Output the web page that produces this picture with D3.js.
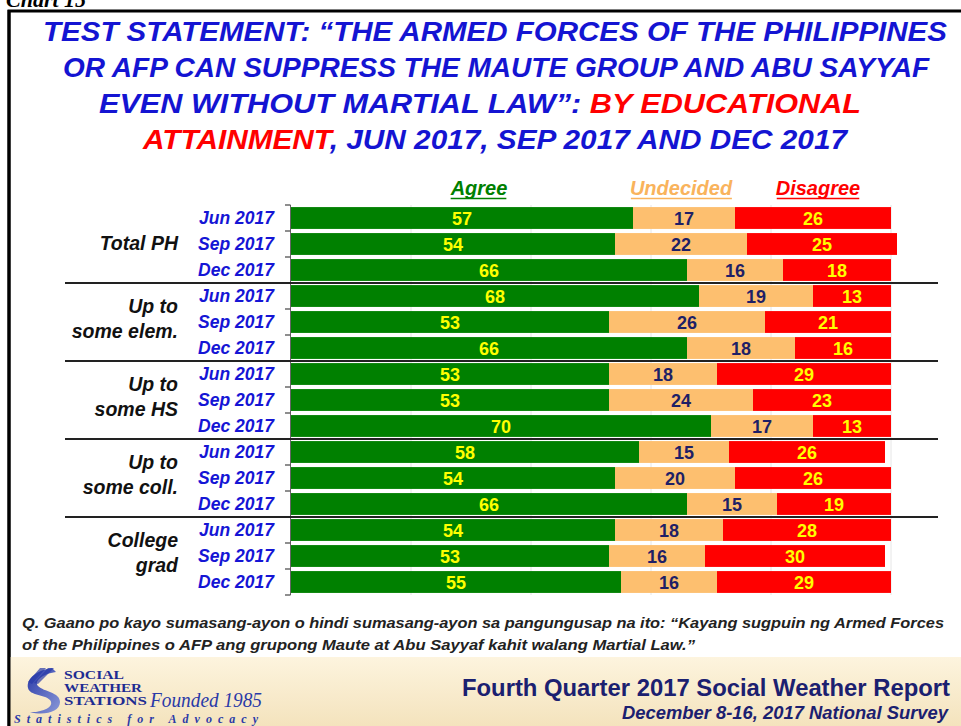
<!DOCTYPE html>
<html>
<head>
<meta charset="utf-8">
<script src="https://cdn.jsdelivr.net/npm/d3@7"></script>
<style>
  body { margin: 0; background: #fff; }
  svg { display: block; font-family: "Liberation Sans", Arial, sans-serif; }
</style>
</head>
<body>
<svg id="chart" width="961" height="726"></svg>
<script>
// data
const groupLines = [['Total PH'], ['Up to', 'some elem.'], ['Up to', 'some HS'], ['Up to', 'some coll.'], ['College', 'grad']];
const periods = ['Jun 2017', 'Sep 2017', 'Dec 2017'];
const agree     = [57, 54, 66, 68, 53, 66, 53, 53, 70, 58, 54, 66, 54, 53, 55];
const undecided = [17, 22, 16, 19, 26, 18, 18, 24, 17, 15, 20, 15, 18, 16, 16];
const disagree  = [26, 25, 18, 13, 21, 16, 29, 23, 13, 26, 26, 19, 28, 30, 29];
const seriesNames = ['Agree', 'Undecided', 'Disagree'];
const gridTicks = [20, 40, 60, 80, 100];

const colors = { Agree: '#008000', Undecided: '#fdbf6f', Disagree: '#ff0000' };
const headColors = { Agree: '#008000', Undecided: '#f9b35c', Disagree: '#ff0000' };
const labelColors = { Agree: '#ffff00', Undecided: '#1f1f66', Disagree: '#ffff00' };

const svg = d3.select('#chart');

// rows
const rows = [];
groupLines.forEach((g, gi) => {
  periods.forEach((p, pi) => {
    const i = gi * 3 + pi;
    rows.push({ id: i, group: gi, period: p, Agree: agree[i], Undecided: undecided[i], Disagree: disagree[i] });
  });
});

const x = d3.scaleLinear().domain([0, 100]).range([291, 891]);
const y = d3.scaleBand().domain(rows.map(d => d.id)).range([205, 595]).paddingInner(0.16).paddingOuter(0.08);

// frame
svg.append('rect').attr('x', 9).attr('y', 11).attr('width', 960).attr('height', 730)
  .attr('fill', 'none').attr('stroke', '#000').attr('stroke-width', 3);

// "Chart 15" cut off at top, as in the source slide
svg.append('text').attr('x', 6).attr('y', 7)
  .attr('font-family', '"Liberation Serif", "Times New Roman", serif')
  .attr('font-weight', 'bold').attr('font-style', 'italic').attr('font-size', 22)
  .text('Chart 15');

// title
const title = svg.append('g').attr('font-weight', 'bold').attr('font-style', 'italic')
  .attr('font-size', 27).attr('text-anchor', 'middle').attr('fill', '#1414d2');
const titleLines = [
  [['TEST STATEMENT: \u201CTHE ARMED FORCES OF THE PHILIPPINES', '#1414d2']],
  [['OR AFP CAN SUPPRESS THE MAUTE GROUP AND ABU SAYYAF', '#1414d2']],
  [['EVEN WITHOUT MARTIAL LAW\u201D: ', '#1414d2'], ['BY EDUCATIONAL', '#ff0000']],
  [['ATTAINMENT', '#ff0000'], [', JUN 2017, SEP 2017 AND DEC 2017', '#1414d2']]
];
const titleY = [41, 77, 113, 149];
const titleX = [495, 496, 480, 495];
const titleW = [904, 866, 762, 704];
titleLines.forEach((parts, i) => {
  const t = title.append('text').attr('x', titleX[i]).attr('y', titleY[i])
    .attr('textLength', titleW[i]).attr('lengthAdjust', 'spacingAndGlyphs');
  parts.forEach(p => t.append('tspan').attr('fill', p[1]).text(p[0]));
});

// legend headings
const headX = { Agree: 479, Undecided: 681, Disagree: 818 };
seriesNames.forEach(s => {
  const t = svg.append('text').attr('x', headX[s]).attr('y', 195)
    .attr('text-anchor', 'middle').attr('font-weight', 'bold').attr('font-style', 'italic')
    .attr('font-size', 20).attr('fill', headColors[s]).text(s);
  const bb = t.node().getBBox();
  svg.append('line').attr('x1', bb.x + 1).attr('x2', bb.x + bb.width - 1)
    .attr('y1', 198.5).attr('y2', 198.5).attr('stroke', headColors[s]).attr('stroke-width', 1.6);
});

// gridlines
svg.append('g').selectAll('line').data(gridTicks).join('line')
  .attr('x1', d => x(d)).attr('x2', d => x(d)).attr('y1', 205).attr('y2', 595)
  .attr('stroke', '#e6e6e6').attr('stroke-width', 1);

// stacked bars
const stack = d3.stack().keys(seriesNames)(rows);
const layers = svg.append('g').selectAll('g').data(stack).join('g')
  .attr('fill', d => colors[d.key]);
layers.selectAll('rect').data(d => d).join('rect')
  .attr('x', d => x(d[0])).attr('width', d => x(d[1]) - x(d[0]))
  .attr('y', d => y(d.data.id)).attr('height', y.bandwidth());

// value labels
const labels = svg.append('g').attr('font-weight', 'bold').attr('font-size', 18).attr('text-anchor', 'middle');
stack.forEach(layer => {
  labels.selectAll(null).data(layer).join('text')
    .attr('x', d => (x(d[0]) + x(d[1])) / 2)
    .attr('y', d => y(d.data.id) + y.bandwidth() / 2 + 6.5)
    .attr('fill', labelColors[layer.key])
    .text(d => d.data[layer.key]);
});

// left axis line with ticks at row boundaries
const axisY = d3.scaleLinear().domain([0, rows.length]).range([205, 595]);
svg.append('line').attr('x1', 290.5).attr('x2', 290.5).attr('y1', 205).attr('y2', 595)
  .attr('stroke', '#666').attr('stroke-width', 1);
svg.append('g').selectAll('line').data(d3.range(rows.length + 1)).join('line')
  .attr('x1', 285).attr('x2', 290.5)
  .attr('y1', d => axisY(d)).attr('y2', d => axisY(d))
  .attr('stroke', '#444').attr('stroke-width', 1.2);

// group separators
svg.append('g').selectAll('line').data([1, 2, 3, 4]).join('line')
  .attr('x1', 65).attr('x2', 938)
  .attr('y1', d => axisY(d * 3)).attr('y2', d => axisY(d * 3))
  .attr('stroke', '#222').attr('stroke-width', 2);

// period labels
svg.append('g').selectAll('text').data(rows).join('text')
  .attr('x', 274).attr('y', d => y(d.id) + y.bandwidth() / 2 + 6)
  .attr('text-anchor', 'end').attr('font-weight', 'bold').attr('font-style', 'italic')
  .attr('font-size', 17.5).attr('fill', '#1515d5')
  .text(d => d.period);

// group labels
const gLab = svg.append('g').attr('text-anchor', 'end').attr('font-weight', 'bold')
  .attr('font-style', 'italic').attr('font-size', 19.5).attr('fill', '#111');
groupLines.forEach((lines, gi) => {
  const c = axisY(gi * 3 + 1.5);
  if (lines.length === 1) {
    gLab.append('text').attr('x', 178).attr('y', c + 6).text(lines[0]);
  } else {
    gLab.append('text').attr('x', 178).attr('y', c - 9).text(lines[0]);
    gLab.append('text').attr('x', 178).attr('y', c + 16).text(lines[1]);
  }
});

// question text
const q = svg.append('g').attr('font-family', '"Liberation Sans Narrow", "Arial Narrow", sans-serif')
  .attr('font-weight', 'bold').attr('font-style', 'italic').attr('font-size', 15).attr('fill', '#222');
q.append('text').attr('x', 22).attr('y', 628)
  .attr('textLength', 922).attr('lengthAdjust', 'spacingAndGlyphs')
  .text('Q. Gaano po kayo sumasang-ayon  o hindi sumasang-ayon  sa pangungusap  na ito: \u201CKayang sugpuin ng Armed Forces');
q.append('text').attr('x', 22).attr('y', 650)
  .attr('textLength', 673).attr('lengthAdjust', 'spacingAndGlyphs')
  .text('of the Philippines o AFP ang grupong Maute at Abu Sayyaf kahit walang Martial Law.\u201D');

// footer band
const defs = svg.append('defs');
const grad = defs.append('linearGradient').attr('id', 'foot').attr('x1', 0).attr('y1', 0).attr('x2', 0).attr('y2', 1);
grad.append('stop').attr('offset', 0).attr('stop-color', '#fdf4de');
grad.append('stop').attr('offset', 1).attr('stop-color', '#f4e3bd');
svg.append('rect').attr('x', 10).attr('y', 657).attr('width', 951).attr('height', 69).attr('fill', 'url(#foot)');
svg.append('line').attr('x1', 9).attr('x2', 9).attr('y1', 10).attr('y2', 726).attr('stroke', '#000').attr('stroke-width', 3);

// logo swirl
const sg = defs.append('linearGradient').attr('id', 'swirl').attr('x1', 0).attr('y1', 0).attr('x2', 1).attr('y2', 1);
sg.append('stop').attr('offset', 0).attr('stop-color', '#2a3aa8');
sg.append('stop').attr('offset', 1).attr('stop-color', '#8a98d8');
svg.append('path')
  .attr('d', 'M52,668 C38,670 26,678 28,688 C30,696 44,694 50,700 C54,705 48,710 36,712 L30,712 C44,716 60,712 60,702 C60,692 44,692 38,686 C34,681 42,674 56,672 Z')
  .attr('fill', 'url(#swirl)');
svg.append('path')
  .attr('d', 'M40,668 L46,668 L32,684 L28,682 Z M48,668 L54,668 L38,684 L34,683 Z')
  .attr('fill', '#2a3aa8').attr('opacity', 0.7);

const logo = svg.append('g').attr('font-family', '"Liberation Serif", "Times New Roman", serif')
  .attr('font-weight', 'bold').attr('font-size', 11.5).attr('fill', '#1e2c92');
logo.append('text').attr('x', 64).attr('y', 679).attr('textLength', 60).attr('lengthAdjust', 'spacingAndGlyphs').text('SOCIAL');
logo.append('text').attr('x', 64).attr('y', 692).attr('textLength', 78).attr('lengthAdjust', 'spacingAndGlyphs').text('WEATHER');
logo.append('text').attr('x', 64).attr('y', 705).attr('textLength', 83).attr('lengthAdjust', 'spacingAndGlyphs').text('STATIONS');
svg.append('text').attr('x', 150).attr('y', 707)
  .attr('font-family', '"URW Chancery L", "Z003", cursive').attr('font-style', 'italic')
  .attr('font-size', 20).attr('fill', '#2a3aa8')
  .attr('textLength', 112).attr('lengthAdjust', 'spacingAndGlyphs').text('Founded 1985');
svg.append('text').attr('x', 14).attr('y', 723)
  .attr('font-family', '"Liberation Serif", "Times New Roman", serif').attr('font-style', 'italic').attr('font-weight', 'bold')
  .attr('font-size', 12).attr('fill', '#2a3aa8')
  .attr('textLength', 244).attr('lengthAdjust', 'spacing').text('Statistics for Advocacy');

// report titles
svg.append('text').attr('x', 950).attr('y', 696).attr('text-anchor', 'end')
  .attr('font-family', '"Liberation Sans Narrow", "Arial Narrow", sans-serif').attr('font-weight', 'bold')
  .attr('font-size', 23).attr('fill', '#1b2070')
  .attr('textLength', 488).attr('lengthAdjust', 'spacingAndGlyphs')
  .text('Fourth Quarter 2017 Social Weather Report');
svg.append('text').attr('x', 948).attr('y', 719).attr('text-anchor', 'end')
  .attr('font-family', '"Liberation Sans Narrow", "Arial Narrow", sans-serif').attr('font-weight', 'bold')
  .attr('font-style', 'italic').attr('font-size', 18).attr('fill', '#1b2070')
  .attr('textLength', 326).attr('lengthAdjust', 'spacingAndGlyphs')
  .text('December 8-16, 2017 National Survey');
</script>
</body>
</html>
